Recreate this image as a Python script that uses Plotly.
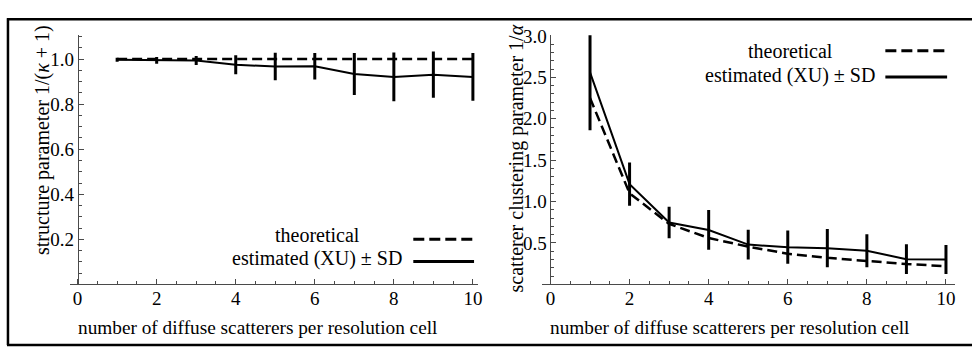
import plotly.graph_objects as go

# ---------------- data ----------------
n_scatterers = [1, 2, 3, 4, 5, 6, 7, 8, 9, 10]

# left panel: structure parameter 1/(kappa+1)
struct_theoretical = [1.0, 1.0, 1.0, 1.0, 1.0, 1.0, 1.0, 1.0, 1.0, 1.0]
struct_estimated = [0.997, 0.994, 0.994, 0.975, 0.967, 0.968, 0.934, 0.921, 0.931, 0.921]
struct_sd = [0.009, 0.015, 0.020, 0.042, 0.061, 0.059, 0.093, 0.108, 0.103, 0.106]

# right panel: scatterer clustering parameter 1/alpha
clust_theoretical = [2.25, 1.10, 0.73, 0.56, 0.455, 0.37, 0.32, 0.28, 0.245, 0.22]
clust_estimated = [2.56, 1.21, 0.746, 0.657, 0.48, 0.449, 0.437, 0.406, 0.304, 0.30]
clust_sd = [0.70, 0.26, 0.19, 0.24, 0.18, 0.20, 0.23, 0.20, 0.18, 0.175]

x_ticks = [0, 2, 4, 6, 8, 10]
struct_yticks = [0.2, 0.4, 0.6, 0.8, 1.0]
struct_yticklabels = ["0.2", "0.4", "0.6", "0.8", "1.0"]
clust_yticks = [0.5, 1.0, 1.5, 2.0, 2.5, 3.0]
clust_yticklabels = ["0.5", "1.0", "1.5", "2.0", "2.5", "3.0"]

x_title = "number of diffuse scatterers per resolution cell"
struct_title = "structure parameter 1/(<i>κ</i> + 1)"
clust_title = "scatterer clustering parameter 1/<i>α</i>"
legend_labels = ["theoretical", "estimated (XU) ± SD"]

# ---------------- layout helpers ----------------
W, H = 976, 347
FONT = "Liberation Serif"
AX = "#4a4a4a"


def px(x):
    return x / W


def py(y):
    return 1 - y / H


fig = go.Figure()

DASH = "10px,5px"

fig.add_trace(go.Scatter(x=n_scatterers, y=struct_estimated, mode="lines",
                         line=dict(color="black", width=2),
                         error_y=dict(type="data", array=struct_sd, visible=True,
                                      thickness=3, width=0, color="black"),
                         xaxis="x", yaxis="y", showlegend=False))
fig.add_trace(go.Scatter(x=n_scatterers, y=struct_theoretical, mode="lines",
                         line=dict(color="black", width=2.5, dash=DASH),
                         xaxis="x", yaxis="y", showlegend=False))

fig.add_trace(go.Scatter(x=n_scatterers, y=clust_theoretical, mode="lines",
                         line=dict(color="black", width=2.5, dash=DASH),
                         xaxis="x2", yaxis="y2", showlegend=False))
fig.add_trace(go.Scatter(x=n_scatterers, y=clust_estimated, mode="lines",
                         line=dict(color="black", width=2),
                         error_y=dict(type="data", array=clust_sd, visible=True,
                                      thickness=3, width=0, color="black"),
                         xaxis="x2", yaxis="y2", showlegend=False))

ydom = [py(282.5), py(26)]
tickfont = dict(family=FONT, size=19, color="black")

common_x = dict(showgrid=False, zeroline=False, showline=True, linecolor=AX, linewidth=1,
                ticks="inside", ticklen=5, tickcolor=AX, tickwidth=1,
                tickvals=x_ticks, ticktext=[str(v) for v in x_ticks], tickfont=tickfont,
                ticklabelstandoff=-3,
                minor=dict(dtick=0.5, tick0=0, ticks="inside", ticklen=3, tickcolor=AX, tickwidth=1),
                fixedrange=True)
common_y = dict(showgrid=False, zeroline=False, showline=True, linecolor=AX, linewidth=1,
                ticks="inside", ticklen=5, tickcolor=AX, tickwidth=1, tickfont=tickfont,
                anchor="free", side="left", fixedrange=True)

fig.update_layout(
    width=W, height=H,
    margin=dict(l=0, r=0, t=0, b=0),
    paper_bgcolor="white", plot_bgcolor="white",
    font=dict(family=FONT, size=20, color="black"),
    showlegend=False,
    xaxis=dict(domain=[px(70), px(480)], range=[-0.2, 10.13], anchor="y", **common_x),
    yaxis=dict(domain=ydom, range=[0, 1.106], position=px(78),
               tickvals=struct_yticks, ticktext=struct_yticklabels,
               minor=dict(dtick=0.05, tick0=0, ticks="inside", ticklen=3, tickcolor=AX, tickwidth=1),
               **common_y),
    xaxis2=dict(domain=[px(544), px(959)], range=[-0.22, 10.23], anchor="y2", **common_x),
    yaxis2=dict(domain=ydom, range=[0, 3.008], position=px(552.7),
                tickvals=clust_yticks, ticktext=clust_yticklabels,
                minor=dict(dtick=0.1, tick0=0, ticks="inside", ticklen=3, tickcolor=AX, tickwidth=1),
                **common_y),
)

annots = []
shapes = []


def text(x, y, s, angle=0, size=20, fam=FONT):
    annots.append(dict(x=px(x), y=py(y), xref="paper", yref="paper", text=s,
                       showarrow=False, xanchor="center", yanchor="middle",
                       textangle=angle, font=dict(family=fam, size=size, color="black")))


def hline(x0, x1, y, dash=None, width=3):
    line = dict(color="black", width=width)
    if dash:
        line["dash"] = dash
    shapes.append(dict(type="line", xref="paper", yref="paper",
                       x0=px(x0), x1=px(x1), y0=py(y), y1=py(y), line=line))


# axis titles
text(259, 327, x_title, size=19.3)
text(733, 327, x_title, size=19.3)
text(42, 134, struct_title, angle=-90)
text(519, 153, clust_title, angle=-90)

# legends
text(319, 232, legend_labels[0])
text(318, 256, legend_labels[1])
hline(415, 476, 236, dash="11px,5px")
hline(415, 476, 259)

text(794, 42, legend_labels[0])
text(793, 67, legend_labels[1])
hline(889, 951, 42, dash="11px,5px")
hline(889, 951, 69)

# outer frame (left, top, bottom)
shapes.append(dict(type="line", xref="paper", yref="paper", x0=px(8), x1=px(8),
                   y0=py(8.5), y1=py(345), line=dict(color="black", width=2.5)))
shapes.append(dict(type="line", xref="paper", yref="paper", x0=px(7), x1=px(976),
                   y0=py(9.5), y1=py(9.5), line=dict(color="black", width=2.5)))
shapes.append(dict(type="line", xref="paper", yref="paper", x0=px(7), x1=px(976),
                   y0=py(345), y1=py(345), line=dict(color="black", width=2.5)))

fig.update_layout(annotations=annots, shapes=shapes)

post = ("document.documentElement.style.margin='0';"
        "document.body.style.margin='0';document.body.style.padding='0';"
        "document.body.style.overflow='hidden';"
        "var d=document.getElementById('{plot_id}');"
        "d.style.position='absolute';d.style.left='0px';d.style.top='0px';")

fig.write_html("out.html", post_script=post, config={"displayModeBar": False, "staticPlot": True})
